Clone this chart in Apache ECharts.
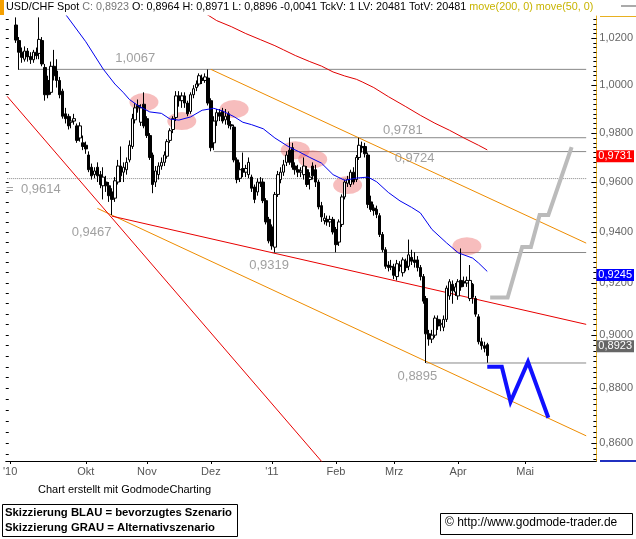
<!DOCTYPE html>
<html>
<head>
<meta charset="utf-8">
<script src="https://cdn.jsdelivr.net/npm/echarts@6/dist/echarts.min.js"></script>
<style>
  html, body { margin:0; padding:0; background:#fff; }
  #main { width:636px; height:539px; }
</style>
</head>
<body>
<div id="main"></div>
<script>
// trading-day slots on the time axis (last ones are the outlook area)
var slotCount = 203;
var slots = [];
for (var s = 0; s < slotCount; s++) slots.push(String(s));

var monthIdx = [1, 27, 48, 70, 91, 113, 133, 155, 178];
var monthNames = ["'10", 'Okt', 'Nov', 'Dez', "'11", 'Feb', 'Mrz', 'Apr', 'Mai'];
var priceTicks = [0.86, 0.88, 0.90, 0.92, 0.94, 0.96, 0.98, 1.00, 1.02];
var priceMin = 0.8535, priceMax = 1.0296;

// daily candles [open, close, low, high], first one sits in slot 3
var firstSlot = 3;
var ohlc = [
  [1.0257,1.0192,1.0180,1.0290],[1.0190,1.0140,1.0065,1.0205],[1.0140,1.0118,1.0095,1.0160],
  [1.0110,1.0145,1.0100,1.0165],[1.0145,1.0120,1.0100,1.0158],[1.0122,1.0108,1.0090,1.0140],
  [1.0108,1.0140,1.0095,1.0150],[1.0140,1.0125,1.0110,1.0160],[1.0135,1.0195,1.0110,1.0290],
  [1.0190,1.0090,1.0080,1.0205],[1.0075,0.9960,0.9935,1.0090],[1.0020,0.9960,0.9945,1.0040],
  [0.9970,1.0080,0.9960,1.0100],[1.0080,1.0040,1.0020,1.0150],[1.0060,1.0020,0.9990,1.0110],
  [1.0020,0.9960,0.9945,1.0035],[0.9975,0.9870,0.9860,0.9985],[0.9880,0.9860,0.9840,0.9905],
  [0.9870,0.9830,0.9815,0.9880],[0.9845,0.9850,0.9820,0.9870],[0.9850,0.9860,0.9835,0.9880],
  [0.9830,0.9770,0.9760,0.9840],[0.9780,0.9830,0.9765,0.9845],[0.9760,0.9745,0.9730,0.9790],
  [0.9750,0.9735,0.9715,0.9765],[0.9710,0.9650,0.9640,0.9725],[0.9660,0.9625,0.9610,0.9675],
  [0.9630,0.9645,0.9615,0.9660],[0.9660,0.9625,0.9600,0.9680],[0.9630,0.9590,0.9575,0.9645],
  [0.9585,0.9620,0.9530,0.9660],[0.9600,0.9585,0.9560,0.9625],[0.9585,0.9545,0.9520,0.9600],
  [0.9560,0.9530,0.9467,0.9575],[0.9535,0.9605,0.9520,0.9620],[0.9600,0.9665,0.9590,0.9690],
  [0.9665,0.9625,0.9600,0.9745],[0.9640,0.9660,0.9600,0.9680],[0.9650,0.9680,0.9630,0.9700],
  [0.9690,0.9750,0.9680,0.9770],[0.9745,0.9860,0.9735,0.9880],[0.9855,0.9905,0.9840,0.9925],
  [0.9915,0.9905,0.9885,0.9940],[0.9845,0.9905,0.9830,0.9920],[0.9920,0.9830,0.9820,0.9970],
  [0.9860,0.9790,0.9780,0.9870],[0.9790,0.9700,0.9690,0.9800],[0.9710,0.9590,0.9555,0.9720],
  [0.9600,0.9645,0.9580,0.9665],[0.9630,0.9665,0.9610,0.9680],[0.9665,0.9680,0.9650,0.9700],
  [0.9680,0.9710,0.9665,0.9725],[0.9705,0.9765,0.9695,0.9775],[0.9770,0.9810,0.9760,0.9820],
  [0.9815,0.9860,0.9800,0.9870],[0.9865,0.9955,0.9850,0.9975],[0.9955,0.9935,0.9910,0.9975],
  [0.9935,0.9955,0.9905,0.9970],[0.9955,0.9925,0.9905,0.9970],[0.9925,0.9880,0.9870,0.9935],
  [0.9890,0.9960,0.9880,0.9970],[0.9960,0.9985,0.9945,1.0000],[0.9990,1.0005,0.9975,1.0020],
  [1.0005,1.0040,0.9995,1.0050],[1.0030,1.0020,1.0005,1.0045],[1.0020,1.0035,1.0010,1.0050],
  [1.0030,0.9925,0.9915,1.0067],[0.9935,0.9740,0.9725,0.9945],[0.9760,0.9850,0.9730,0.9870],
  [0.9850,0.9885,0.9830,0.9900],[0.9885,0.9870,0.9850,0.9900],[0.9890,0.9850,0.9840,0.9905],
  [0.9855,0.9870,0.9835,0.9900],[0.9880,0.9835,0.9820,0.9890],[0.9835,0.9830,0.9815,0.9850],
  [0.9825,0.9690,0.9680,0.9835],[0.9690,0.9610,0.9595,0.9700],[0.9615,0.9650,0.9600,0.9680],
  [0.9655,0.9640,0.9620,0.9720],[0.9640,0.9655,0.9620,0.9670],[0.9630,0.9680,0.9615,0.9700],
  [0.9620,0.9575,0.9560,0.9630],[0.9580,0.9530,0.9515,0.9590],[0.9560,0.9600,0.9545,0.9615],
  [0.9600,0.9595,0.9580,0.9620],[0.9600,0.9525,0.9515,0.9615],[0.9525,0.9440,0.9430,0.9535],
  [0.9450,0.9365,0.9355,0.9460],[0.9420,0.9345,0.9330,0.9430],[0.9340,0.9550,0.9319,0.9560],
  [0.9550,0.9630,0.9540,0.9645],[0.9610,0.9640,0.9595,0.9660],[0.9640,0.9670,0.9625,0.9690],
  [0.9680,0.9710,0.9665,0.9725],[0.9730,0.9680,0.9670,0.9781],[0.9740,0.9660,0.9650,0.9760],
  [0.9665,0.9650,0.9630,0.9680],[0.9650,0.9640,0.9620,0.9670],[0.9640,0.9645,0.9620,0.9660],
  [0.9630,0.9665,0.9610,0.9700],[0.9650,0.9590,0.9580,0.9665],[0.9610,0.9620,0.9570,0.9640],
  [0.9665,0.9625,0.9610,0.9680],[0.9650,0.9600,0.9580,0.9670],[0.9600,0.9500,0.9490,0.9610],
  [0.9505,0.9460,0.9440,0.9520],[0.9445,0.9455,0.9430,0.9475],[0.9450,0.9440,0.9425,0.9465],
  [0.9440,0.9450,0.9420,0.9465],[0.9450,0.9400,0.9390,0.9460],[0.9410,0.9350,0.9320,0.9420],
  [0.9360,0.9440,0.9345,0.9450],[0.9430,0.9540,0.9420,0.9550],[0.9540,0.9600,0.9530,0.9610],
  [0.9595,0.9610,0.9580,0.9625],[0.9590,0.9640,0.9580,0.9650],[0.9640,0.9600,0.9590,0.9660],
  [0.9610,0.9700,0.9600,0.9710],[0.9700,0.9750,0.9690,0.9781],[0.9745,0.9740,0.9720,0.9765],
  [0.9745,0.9715,0.9700,0.9760],[0.9710,0.9510,0.9495,0.9720],[0.9520,0.9490,0.9480,0.9545],
  [0.9495,0.9485,0.9465,0.9510],[0.9490,0.9470,0.9455,0.9505],[0.9465,0.9390,0.9380,0.9475],
  [0.9390,0.9330,0.9320,0.9400],[0.9330,0.9265,0.9255,0.9340],[0.9270,0.9260,0.9245,0.9285],
  [0.9265,0.9262,0.9250,0.9290],[0.9262,0.9230,0.9215,0.9275],[0.9225,0.9275,0.9210,0.9290],
  [0.9270,0.9265,0.9245,0.9285],[0.9240,0.9290,0.9225,0.9300],[0.9285,0.9260,0.9245,0.9295],
  [0.9265,0.9310,0.9250,0.9370],[0.9300,0.9285,0.9270,0.9330],[0.9290,0.9280,0.9260,0.9320],
  [0.9290,0.9260,0.9245,0.9305],[0.9260,0.9225,0.9210,0.9270],[0.9225,0.9130,0.9120,0.9235],
  [0.9140,0.9005,0.8895,0.9150],[0.9005,0.8985,0.8960,0.9020],[0.8985,0.9000,0.8970,0.9020],
  [0.9000,0.9065,0.8990,0.9075],[0.9060,0.9035,0.9020,0.9075],[0.9040,0.9045,0.9015,0.9060],
  [0.9030,0.9060,0.9015,0.9075],[0.9060,0.9180,0.9050,0.9190],[0.9150,0.9205,0.9135,0.9215],
  [0.9195,0.9170,0.9120,0.9210],[0.9165,0.9185,0.9150,0.9200],[0.9150,0.9205,0.9135,0.9215],
  [0.9210,0.9185,0.9170,0.9335],[0.9205,0.9200,0.9185,0.9225],[0.9200,0.9210,0.9185,0.9225],
  [0.9140,0.9210,0.9130,0.9270],[0.9195,0.9145,0.9120,0.9200],[0.9140,0.9080,0.9070,0.9150],
  [0.9070,0.8975,0.8965,0.9080],[0.8975,0.8960,0.8945,0.8990],[0.8960,0.8950,0.8935,0.8975],
  [0.8964,0.8923,0.8896,0.8971]
];

// moving averages [slot, value]
var ma200 = [[66,1.0318],[69,1.0300],[72,1.0276],[77,1.0250],[82,1.0220],[87,1.0194],[92,1.0168],
  [95,1.0150],[99,1.0126],[104,1.0100],[108,1.0081],[112,1.0056],[116,1.0039],[120,1.0025],
  [122,1.0014],[126,0.9990],[131,0.9952],[137,0.9910],[142,0.9874],[147,0.9841],[152,0.9812],
  [157,0.9780],[162,0.9750],[165,0.9731]];
var ma50 = [[18,1.0340],[20,1.0304],[22,1.0270],[27,1.0185],[33,1.0068],[37,1.0005],[40,0.9968],
  [42,0.9940],[45,0.9914],[49,0.9888],[53,0.9882],[56,0.9858],[59,0.9854],[63,0.9867],[67,0.9895],
  [71,0.9903],[74,0.9892],[78,0.9868],[81,0.9845],[84,0.9835],[88,0.9818],[92,0.9780],[97,0.9742],
  [100,0.9725],[104,0.9700],[108,0.9677],[112,0.9630],[116,0.9607],[120,0.9616],[124,0.9620],
  [127,0.9601],[131,0.9558],[135,0.9524],[139,0.9498],[142,0.9476],[146,0.9410],[151,0.9357],
  [155,0.9318],[160,0.9297],[162,0.9278],[165,0.9245]];

// horizontal levels
var levels = [1.0067, 0.9781, 0.9724, 0.9614, 0.9319, 0.8895];
var levelFrom = [4, 97, 71, 0, 91, 144];
var levelTo = 199;
var levelDotted = [false, false, false, true, false, false];
var levelTexts = ['1,0067', '0,9781', '0,9724', '=  0,9614', '0,9467', '0,9319', '0,8895'];
var levelTextAt = [[44,1.0115],[136,0.9813],[140,0.9698],[9,0.9572],[29,0.9398],[90,0.9267],[141,0.8843]];

// trend lines
var orangeLines = [[[70,1.0067],[199,0.9356]], [[31,0.9494],[199,0.8626]]];
var redLines = [[[36,0.9463],[199,0.9041]], [[0,0.9953],[110,0.8510]]];

// marked zones
var zones = [[47,0.9929],[60,0.9850],[78,0.9900],[99,0.9730],[105,0.9693],[117,0.9588],[158,0.9344]];

// scenarios
var scenBlue = [[165,0.8881],[170,0.8881],[173,0.8751],[179,0.8899],[186,0.8692]];
var scenGray = [[166,0.9144],[172,0.9144],[177,0.9341],[180,0.9341],[183,0.9468],[186,0.9468],[194,0.9742]];

var L = Math.log;
function fmt(p) { return p.toFixed(4).replace('.', ','); }
function pts(arr) { return arr.map(function (d) { return [String(d[0]), L(d[1])]; }); }

var candleData = [];
for (var i = 0; i < firstSlot; i++) candleData.push(['-', '-', '-', '-']);
ohlc.forEach(function (r) { candleData.push(r.map(L)); });

var minorTicks = [], leftTicks = [];
for (var k = 427; k <= 515; k++) minorTicks.push(L(k * 0.002));
for (var k2 = 214; k2 <= 258; k2++) leftTicks.push(L(k2 * 0.004));

var font = "'Liberation Sans', Arial, sans-serif";

function boxLine(value, bg) {
  return {
    silent: true, symbol: ['none', 'none'], animation: false,
    lineStyle: { color: 'rgba(0,0,0,0)', width: 0 },
    label: { show: true, position: 'end', distance: 0, formatter: fmt(value),
      backgroundColor: bg, color: '#fff', fontSize: 11, fontFamily: font, padding: [1, 2, 0, 2] },
    data: [{ yAxis: L(value) }]
  };
}

var series = [];

levels.forEach(function (p, n) {
  series.push({
    type: 'line', z: 1, symbol: 'none', silent: true,
    data: pts([[levelFrom[n], p], [levelTo, p]]),
    lineStyle: { color: '#888', width: 1, type: levelDotted[n] ? 'dotted' : 'solid' }
  });
});

series.push({
  type: 'scatter', z: 3, silent: true,
  symbolSize: [29, 18],
  itemStyle: { color: 'rgba(235, 90, 90, 0.5)' },
  data: pts(zones)
});

orangeLines.forEach(function (seg) {
  series.push({ type: 'line', z: 2, symbol: 'none', silent: true, data: pts(seg),
    lineStyle: { color: '#ee8c00', width: 1 } });
});
redLines.forEach(function (seg) {
  series.push({ type: 'line', z: 2, symbol: 'none', silent: true, data: pts(seg),
    lineStyle: { color: '#e80000', width: 1 } });
});

series.push({
  type: 'candlestick', z: 4, barWidth: 3,
  data: candleData,
  itemStyle: { color: '#fff', color0: '#000', borderColor: '#000', borderColor0: '#000', borderWidth: 1 },
  markLine: boxLine(ohlc[ohlc.length - 1][1], '#666666')
});

series.push({
  type: 'line', z: 5, symbol: 'none', data: pts(ma200),
  lineStyle: { color: '#e00000', width: 1 },
  markLine: boxLine(ma200[ma200.length - 1][1], '#ff0000')
});
series.push({
  type: 'line', z: 5, symbol: 'none', data: pts(ma50),
  lineStyle: { color: '#0000ee', width: 1 },
  markLine: boxLine(ma50[ma50.length - 1][1], '#0000ff')
});

series.push({ type: 'line', z: 6, symbol: 'none', data: pts(scenGray),
  lineStyle: { color: '#bbbbbb', width: 4, join: 'miter' } });
series.push({ type: 'line', z: 6, symbol: 'none', data: pts(scenBlue),
  lineStyle: { color: '#1010ff', width: 4, join: 'miter' } });

series.push({
  type: 'scatter', z: 7, silent: true, symbolSize: 1,
  itemStyle: { color: 'rgba(0,0,0,0)' },
  label: { show: true, position: 'inside', formatter: '{b}', color: '#888', fontSize: 13, fontFamily: font },
  data: levelTextAt.map(function (d, n) { return { name: levelTexts[n], value: [String(d[0]), L(d[1])] }; })
});

var chart = echarts.init(document.getElementById('main'));
chart.setOption({
  animation: false,
  backgroundColor: '#fff',
  textStyle: { fontFamily: font },
  grid: { left: 0, right: 36, top: 16, bottom: 78 },
  xAxis: {
    type: 'category', data: slots, boundaryGap: true,
    axisLine: { onZero: false, lineStyle: { color: '#000', width: 1 } },
    axisTick: { show: true, alignWithLabel: true, length: 3, lineStyle: { color: '#000' },
      interval: function (idx) { return monthIdx.indexOf(idx) >= 0; } },
    axisLabel: { color: '#555', fontSize: 11, margin: 5,
      interval: function (idx) { return monthIdx.indexOf(idx) >= 0; },
      formatter: function (v, idx) { return monthNames[monthIdx.indexOf(idx)]; } },
    splitLine: { show: false }
  },
  yAxis: [{
    type: 'value', position: 'right', min: L(priceMin), max: L(priceMax),
    axisLine: { show: true, lineStyle: { color: '#e8b020', width: 1 } },
    axisTick: { show: true, inside: true, length: 5, customValues: priceTicks.map(L), lineStyle: { color: '#000' } },
    axisLabel: { customValues: priceTicks.map(L), color: '#666', fontSize: 11, margin: 3,
      formatter: function (v) { return fmt(Math.exp(v)); } },
    splitLine: { show: false }
  }, {
    type: 'value', position: 'right', min: L(priceMin), max: L(priceMax),
    axisLine: { show: false },
    axisTick: { show: true, inside: true, length: 3, customValues: minorTicks, lineStyle: { color: '#000' } },
    axisLabel: { show: false }, splitLine: { show: false }
  }, {
    type: 'value', position: 'left', min: L(priceMin), max: L(priceMax),
    axisLine: { show: false },
    axisTick: { show: true, inside: true, length: 3, customValues: leftTicks, lineStyle: { color: '#000' } },
    axisLabel: { show: false }, splitLine: { show: false }
  }],
  series: series,
  graphic: [
    { type: 'rect', left: 0, top: 0, shape: { width: 4, height: 15 }, style: { fill: '#f5a000' } },
    { type: 'text', left: 6, top: 2, style: {
      text: '{k|USD/CHF Spot }{g|C: 0,8923}{k| O: 0,8964 H: 0,8971 L: 0,8896 -0,0041 TckV: 1 LV: 20481 TotV: 20481 }{y|move(200, 0) move(50, 0)}',
      rich: { k: { fill: '#000', fontSize: 10.8, fontFamily: font },
              g: { fill: '#777', fontSize: 10.8, fontFamily: font },
              y: { fill: '#c8b400', fontSize: 10.8, fontFamily: font } } } },
    { type: 'line', shape: { x1: 621, y1: 6, x2: 636, y2: 6 }, style: { stroke: '#aaa', lineWidth: 2 } },
    { type: 'line', shape: { x1: 600, y1: 16.5, x2: 636, y2: 16.5 }, style: { stroke: '#e8b020', lineWidth: 1 } },
    { type: 'line', shape: { x1: 600, y1: 461, x2: 636, y2: 461 }, style: { stroke: '#2030c0', lineWidth: 2 } },
    { type: 'text', left: 38, top: 484, style: { text: 'Chart erstellt mit GodmodeCharting', fill: '#000', fontSize: 11, fontFamily: font } },
    { type: 'rect', shape: { x: 2.5, y: 504.5, width: 235, height: 32 }, style: { fill: '#fff', stroke: '#000', lineWidth: 1 } },
    { type: 'text', left: 5, top: 507, style: { text: 'Skizzierung BLAU = bevorzugtes Szenario', fill: '#000', fontSize: 11.3, fontWeight: 'bold', fontFamily: font } },
    { type: 'text', left: 5, top: 522, style: { text: 'Skizzierung GRAU = Alternativszenario', fill: '#000', fontSize: 11.3, fontWeight: 'bold', fontFamily: font } },
    { type: 'rect', shape: { x: 440.5, y: 513.5, width: 192, height: 21 }, style: { fill: '#fff', stroke: '#000', lineWidth: 1 } },
    { type: 'text', left: 445, top: 517, style: { text: '\u00a9 http://www.godmode-trader.de', fill: '#000', fontSize: 12, fontFamily: font } }
  ]
});
</script>
</body>
</html>
